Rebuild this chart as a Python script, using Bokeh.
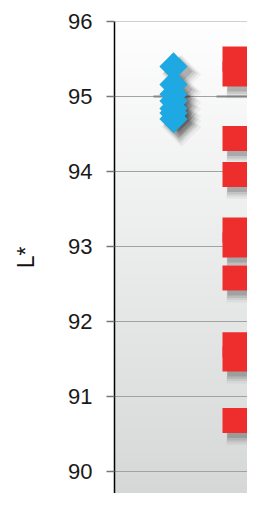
import numpy as np
from bokeh.plotting import figure
from bokeh.models import Range1d, FixedTicker
from bokeh.embed import file_html
from bokeh.resources import INLINE

# ---- data ----
groups = [1, 2]
blue_vals = [95.40, 95.16, 95.03, 94.94, 94.84, 94.78, 94.70]
red_vals = [95.50, 95.30, 94.44, 93.96, 93.22, 93.02, 92.58, 91.69, 91.50, 90.68]
y_ticks = [90, 91, 92, 93, 94, 95, 96]
ref_value = 95.0

W, H = 247, 493
BL, BT = 114, 21
px_y = 75.0
px_x = 61.5
y1 = 96.0
y0 = y1 - (H - BT) / px_y
x0 = 2.5 / px_x
x1 = x0 + (W - BL) / px_x

p = figure(width=W, height=H, output_backend="svg", toolbar_location=None,
           x_range=Range1d(x0, x1), y_range=Range1d(y0, y1),
           min_border_left=BL, min_border_right=0, min_border_top=BT, min_border_bottom=0)
p.outline_line_color = None
p.background_fill_color = "white"
p.border_fill_color = "white"

# gradient background (decoration)
n = 200
top = np.array([254, 254, 254])
bot = np.array([214, 216, 216])
img = np.zeros((n, 1), dtype=np.uint32)
view = img.view(dtype=np.uint8).reshape((n, 1, 4))
for i in range(n):
    t = i / (n - 1)  # i=0 is bottom row
    c = bot + (top - bot) * t
    view[i, 0, 0:3] = np.round(c).astype(np.uint8)
    view[i, 0, 3] = 255
p.image_rgba(image=[img], x=x0, y=y0, dw=x1 - x0, dh=y1 - y0)

# grid lines
for v in y_ticks:
    p.segment(x0=x0, x1=x1, y0=v, y1=v, line_color="#a2a2a2", line_width=1)

# darker reference segments at 95
p.segment(x0=[0.675, 1.70], x1=[1.27, x1], y0=[ref_value] * 2, y1=[ref_value] * 2,
          line_color="#858585", line_width=2)

p.xgrid.visible = False
p.ygrid.visible = False
p.xaxis.visible = False

def shadow(xs, ys, size, angle):
    for off, grow, a in [(8, 8, 0.05), (7, 5, 0.08), (6, 3, 0.10), (5, 0, 0.16)]:
        p.scatter([x + off / px_x for x in xs], [y - off / px_y for y in ys],
                  marker="square", size=size + grow, angle=angle,
                  fill_color="#202020", fill_alpha=a, line_color=None)

bx = [groups[0]] * len(blue_vals)
rx = [groups[1]] * len(red_vals)
shadow(bx, blue_vals, 20, 0.7854)
shadow(rx, red_vals, 25, 0)
p.scatter(bx, blue_vals, marker="square", size=20, angle=0.7854,
          fill_color="#1ea9e3", line_color=None)
p.scatter(rx, red_vals, marker="square", size=25,
          fill_color="#ee2e2c", line_color=None)

ax = p.yaxis[0]
ax.ticker = FixedTicker(ticks=y_ticks)
ax.minor_tick_line_color = None
ax.major_tick_in = 0
ax.major_tick_out = 8
ax.major_tick_line_color = "#777777"
ax.major_tick_line_width = 1.5
ax.axis_line_color = "black"
ax.axis_line_width = 1.5
ax.major_label_text_font = "Liberation Sans"
ax.major_label_text_font_size = "22px"
ax.major_label_text_color = "#1a1a1a"
ax.major_label_standoff = 14
ax.axis_label = "L*"
ax.axis_label_text_font = "Liberation Sans"
ax.axis_label_text_font_style = "normal"
ax.axis_label_text_font_size = "23px"
ax.axis_label_text_color = "#111111"
ax.axis_label_standoff = 26

open("out.html", "w").write(file_html(p, INLINE))
